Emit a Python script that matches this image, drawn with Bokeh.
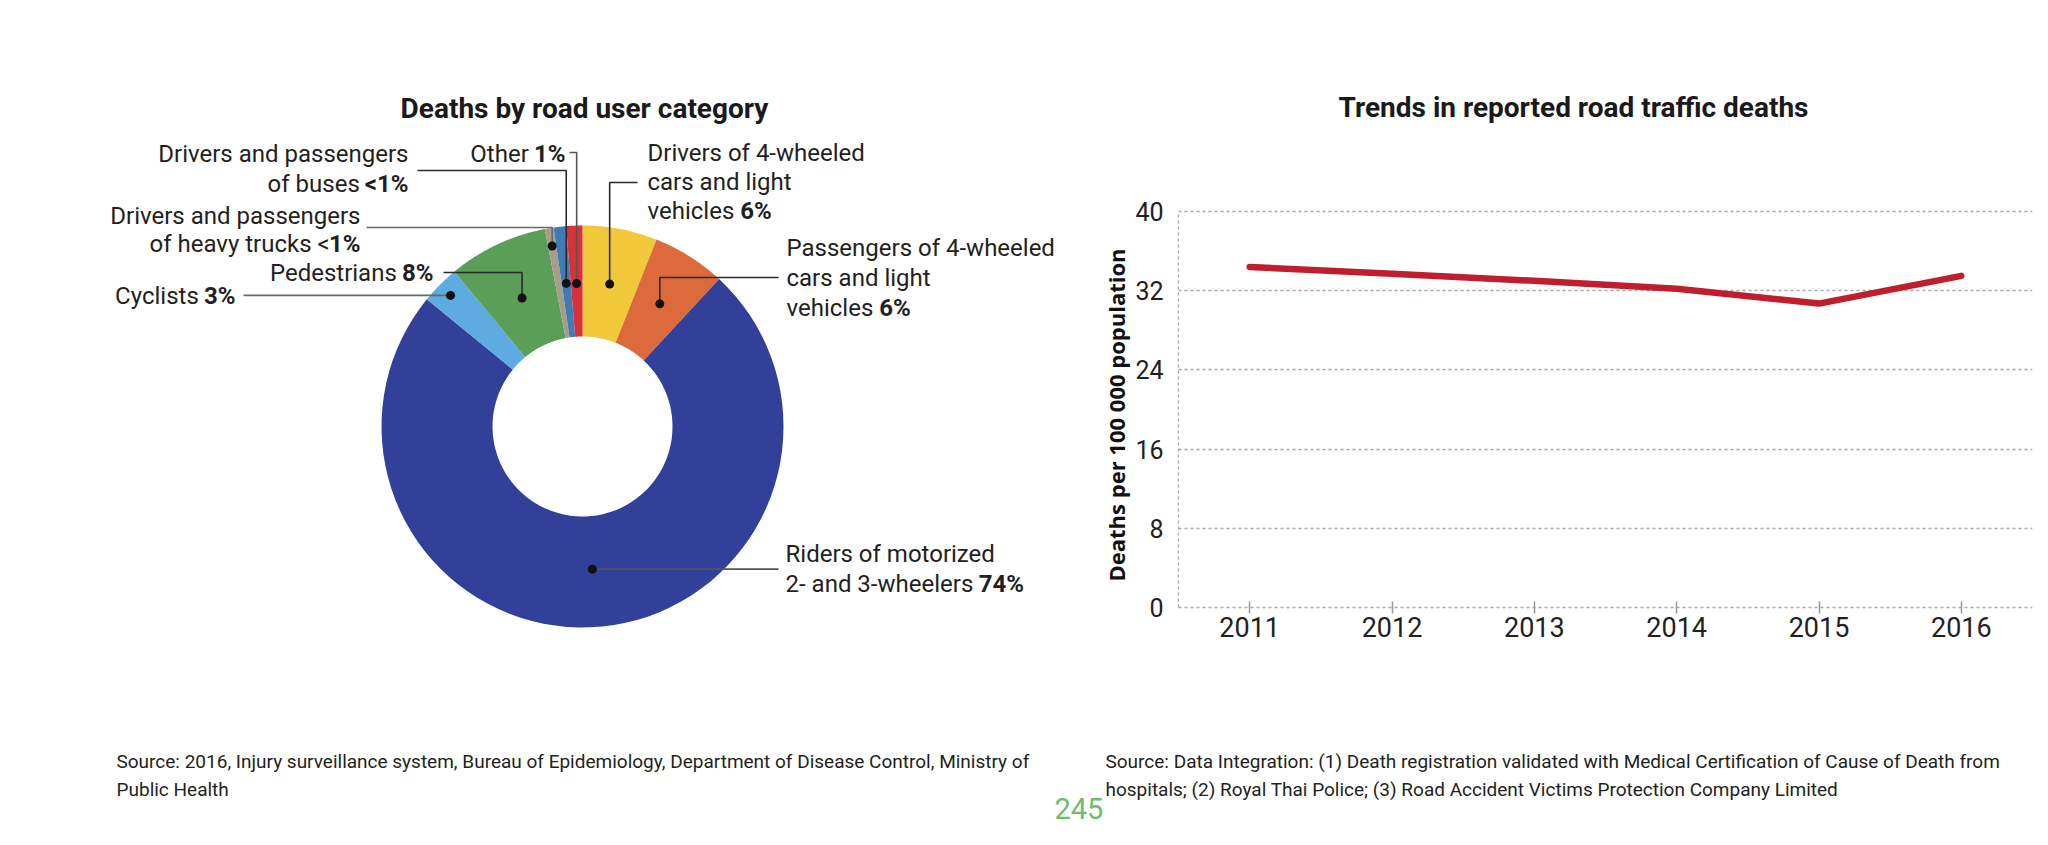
import numpy as np
from bokeh.plotting import figure
from bokeh.layouts import column, row
from bokeh.models import Range1d, FixedTicker, Title
from bokeh.core.properties import value
from bokeh.embed import file_html
from bokeh.resources import INLINE

# ---------------- data ----------------
categories = [
    "Drivers of 4-wheeled cars and light vehicles",
    "Passengers of 4-wheeled cars and light vehicles",
    "Riders of motorized 2- and 3-wheelers",
    "Cyclists",
    "Pedestrians",
    "Drivers and passengers of heavy trucks",
    "Drivers and passengers of buses",
    "Other",
]
shares = [6.0, 5.9, 74.0, 3.1, 8.0, 0.7, 1.0, 1.3]
slice_colors = ["#f2c83b", "#dd6a3b", "#33409a", "#5eabe2", "#5a9e57", "#a89d88", "#3f7cb6", "#d8313a"]

label_head = [["Drivers of 4-wheeled", "cars and light"],
              ["Passengers of 4-wheeled", "cars and light"],
              ["Riders of motorized"],
              [], [],
              ["Drivers and passengers"],
              ["Drivers and passengers"],
              []]
label_tail = ["vehicles", "vehicles", "2- and 3-wheelers", "Cyclists", "Pedestrians",
              "of heavy trucks <", "of buses", "Other"]
label_pct = ["6%", "6%", "74%", "3%", "8%", "1%", "<1%", "1%"]

years = [2011, 2012, 2013, 2014, 2015, 2016]
deaths_per_100k = [34.4, 33.7, 33.0, 32.2, 30.7, 33.5]
y_ticks = [0, 8, 16, 24, 32, 40]

title_left = "Deaths by road user category"
title_right = "Trends in reported road traffic deaths"
y_label = "Deaths per 100 000 population"
source_left = ["Source: 2016, Injury surveillance system, Bureau of Epidemiology, Department of Disease Control, Ministry of",
               "Public Health"]
source_right = ["Source: Data Integration: (1) Death registration validated with Medical Certification of Cause of Death from",
                "hospitals; (2) Royal Thai Police; (3) Road Accident Victims Protection Company Limited"]
page_number = "245"

# ---------------- style / layout ----------------
FONT = "Roboto"
TXT = "#231f20"
LBL_PX = 24
LBL = f"{LBL_PX}px"
TOP_H = 740          # height of the upper row
BOT_BORDER = 100     # shared bottom border of the upper row plots

# approximate Roboto advance widths (em)
REG = {' ': .248, '-': .276, '<': .508, '2': .5615, '3': .5615, 'a': .544, 'c': .523, 'd': .549,
       'e': .530, 'h': .551, 'i': .243, 'l': .243, 'n': .551, 'r': .338, 's': .516, 'v': .484,
       'w': .751, 'o': .570, 'f': .347, 'u': .551, 'b': .560, 'y': .474, 'k': .506, 't': .327}
BOLD = {'%': .72, '<': .50}


def tw(s, px, bold=False):
    t = BOLD if bold else REG
    return sum(t.get(c, .5615) for c in s) * px


label_layout = [
    dict(side="left", x=647, y=152, dy=29, r=145, elbow=182, end=637, lc="#2a2a2a"),
    dict(side="left", x=786, y=247, dy=30, r=145, elbow=277, end=778, lc="#2a2a2a"),
    dict(side="left", x=785, y=553, dy=30, r=143, elbow=None, end=778, lc="#555555"),
    dict(side="right", x=235, y=295, dy=30, r=186, elbow=None, end=243, lc="#6a6a6a"),
    dict(side="right", x=433, y=272, dy=30, r=142, elbow=272, end=443, lc="#2a2a2a"),
    dict(side="right", x=360, y=215, dy=28, r=183, elbow=227, end=366, lc="#6a6a6a"),
    dict(side="right", x=408, y=153, dy=30, r=144, elbow=170, end=417, lc="#2a2a2a"),
    dict(side="right", x=565, y=153, dy=30, r=143, elbow=152, end=569, lc="#555555"),
]

CX, CY, R_OUT, R_IN = 582.0, 426.0, 201.0, 90.0

# ---------------- left: donut ----------------
LF_H = TOP_H - BOT_BORDER
left = figure(width=1090, height=TOP_H, x_range=Range1d(0, 1090), y_range=Range1d(LF_H, 0),
              toolbar_location=None, output_backend="svg", title=None,
              x_axis_type=None, y_axis_type=None,
              min_border_left=0, min_border_right=0, min_border_top=0, min_border_bottom=BOT_BORDER)
left.outline_line_color = None
left.grid.visible = False

vals = np.array(shares, dtype=float)
frac = vals / vals.sum()
ends = np.cumsum(frac) * 2 * np.pi
starts = ends - frac * 2 * np.pi
xs, ys = [], []
for a0, a1 in zip(starts, ends):
    th = np.linspace(a0, a1, 80)
    xo = CX + R_OUT * np.sin(th)
    yo = CY - R_OUT * np.cos(th)
    xi = CX + R_IN * np.sin(th[::-1])
    yi = CY - R_IN * np.cos(th[::-1])
    xs.append(list(np.concatenate([xo, xi])))
    ys.append(list(np.concatenate([yo, yi])))
left.patches(xs, ys, fill_color=slice_colors, line_color=None)

mids = (starts + ends) / 2
dot_x, dot_y, lxs, lys, lcols = [], [], [], [], []
for m, lay in zip(mids, label_layout):
    dx = CX + lay["r"] * np.sin(m)
    dy = CY - lay["r"] * np.cos(m)
    dot_x.append(dx)
    dot_y.append(dy)
    if lay["elbow"] is None:
        lxs.append([dx, lay["end"]])
        lys.append([dy, dy])
    else:
        lxs.append([dx, dx, lay["end"]])
        lys.append([dy, lay["elbow"], lay["elbow"]])
    lcols.append(lay["lc"])
left.multi_line(lxs, lys, line_color=lcols, line_width=1.6)
left.scatter(dot_x, dot_y, size=9, fill_color="#111111", line_color=None)

reg_x, reg_y, reg_t, reg_a = [], [], [], []
b_x, b_y, b_t, b_a = [], [], [], []
for head, tail, pct, lay in zip(label_head, label_tail, label_pct, label_layout):
    for i, line in enumerate(head):
        reg_x.append(lay["x"]); reg_y.append(lay["y"] + i * lay["dy"]); reg_t.append(line)
        reg_a.append(lay["side"])
    yl = lay["y"] + len(head) * lay["dy"]
    gap = 0 if tail.endswith("<") else tw(" ", LBL_PX)
    if lay["side"] == "right":
        wb = tw(pct, LBL_PX, bold=True)
        b_x.append(lay["x"]); b_a.append("right")
        reg_x.append(lay["x"] - wb - gap); reg_a.append("right")
    else:
        wt = tw(tail, LBL_PX)
        reg_x.append(lay["x"]); reg_a.append("left")
        b_x.append(lay["x"] + wt + gap); b_a.append("left")
    reg_y.append(yl); reg_t.append(tail)
    b_y.append(yl); b_t.append(pct)

left.text(x=reg_x, y=reg_y, text=reg_t, text_align=reg_a, text_baseline="middle",
          text_font=value(FONT), text_font_size=LBL, text_color=TXT)
left.text(x=b_x, y=b_y, text=b_t, text_align=b_a, text_baseline="middle",
          text_font=value(FONT), text_font_size=LBL, text_font_style="bold", text_color=TXT)
left.text(x=[584], y=[108], text=[title_left], text_align="center", text_baseline="middle",
          text_font=value(FONT), text_font_size="28px", text_font_style="bold", text_color="#1a1a1a")

# ---------------- right: line chart ----------------
# page-pixel placement of the chart area (left edge of this plot is at page x=1090)
PX_LEFT, PX_RIGHT, PX_TOP, PX_ZERO = 1178, 2032, 211, 607
x_lo, x_hi = years[0] - 0.5, years[-1] + 0.5
y_lo, y_hi = y_ticks[0], y_ticks[-1]
ys_scale = (PX_ZERO - PX_TOP) / (y_hi - y_lo)
xs_scale = (PX_RIGHT - PX_LEFT) / (x_hi - x_lo)
y_start = y_lo - (LF_H - PX_ZERO) / ys_scale
y_end = y_hi + PX_TOP / ys_scale

right = figure(width=958, height=TOP_H, x_range=Range1d(x_lo, x_hi), y_range=Range1d(y_start, y_end),
               toolbar_location=None, output_backend="svg", title=None,
               min_border_left=PX_LEFT - 1090, min_border_right=2048 - PX_RIGHT,
               min_border_top=0, min_border_bottom=BOT_BORDER)
right.outline_line_color = None

right.line(years, deaths_per_100k, line_color="#be1e2d", line_width=6.5,
           line_cap="round", line_join="round")

right.text(x=[x_lo + (1573 - PX_LEFT) / xs_scale], y=[y_hi + (PX_TOP - 107) / ys_scale],
           text=[title_right], text_align="center", text_baseline="middle",
           text_font=value(FONT), text_font_size="28px", text_font_style="bold", text_color="#1a1a1a")

right.xgrid.visible = False
right.ygrid.ticker = FixedTicker(ticks=y_ticks)
right.ygrid.grid_line_color = "#a8a8a8"
right.ygrid.grid_line_dash = "3 3"
right.ygrid.grid_line_width = 1.3

right.yaxis.ticker = FixedTicker(ticks=y_ticks)
right.yaxis.bounds = (y_lo, y_hi)
right.yaxis.axis_line_color = "#a8a8a8"
right.yaxis.axis_line_dash = "3 3"
right.yaxis.axis_line_width = 1.3
right.yaxis.major_tick_line_color = None
right.yaxis.major_tick_in = 0
right.yaxis.major_tick_out = 0
right.yaxis.minor_tick_line_color = None
right.yaxis.major_label_standoff = 15
right.yaxis.major_label_text_font = FONT
right.yaxis.major_label_text_font_size = "25px"
right.yaxis.major_label_text_color = TXT

# y-axis title: starts (bottom end of the rotated text) near page y=581
ytitle = Title(text=y_label, align="left", offset=LF_H - 581,
               text_font="Open Sans", text_font_style="bold", text_font_size="22px",
               text_color="#111111", standoff=4)
right.add_layout(ytitle, "left")

right.xaxis.ticker = FixedTicker(ticks=years)
right.xaxis.fixed_location = y_lo
right.xaxis.axis_line_color = None
right.xaxis.major_tick_line_color = "#999999"
right.xaxis.major_tick_line_width = 1.5
right.xaxis.major_tick_in = 6
right.xaxis.major_tick_out = 6
right.xaxis.minor_tick_line_color = None
right.xaxis.major_label_standoff = 3
right.xaxis.major_label_text_font = FONT
right.xaxis.major_label_text_font_size = "27px"
right.xaxis.major_label_text_color = TXT

# ---------------- bottom: sources ----------------
bottom = figure(width=2048, height=845 - TOP_H, x_range=Range1d(0, 2048), y_range=Range1d(845, TOP_H),
                toolbar_location=None, output_backend="svg", title=None,
                x_axis_type=None, y_axis_type=None, min_border=0)
bottom.outline_line_color = None
bottom.grid.visible = False
bottom.text(x=[116, 116], y=[761, 789], text=source_left, text_align="left", text_baseline="middle",
            text_font=value(FONT), text_font_size="19px", text_color=TXT)
bottom.text(x=[1105, 1105], y=[761, 789], text=source_right, text_align="left", text_baseline="middle",
            text_font=value(FONT), text_font_size="19px", text_color=TXT)
bottom.text(x=[1054], y=[808], text=[page_number], text_align="left", text_baseline="middle",
            text_font=value(FONT), text_font_size="29px", text_font_style="normal", text_color="#6dbd6d")

layout = column(row(left, right), bottom)
open("out.html", "w").write(file_html(layout, INLINE))
